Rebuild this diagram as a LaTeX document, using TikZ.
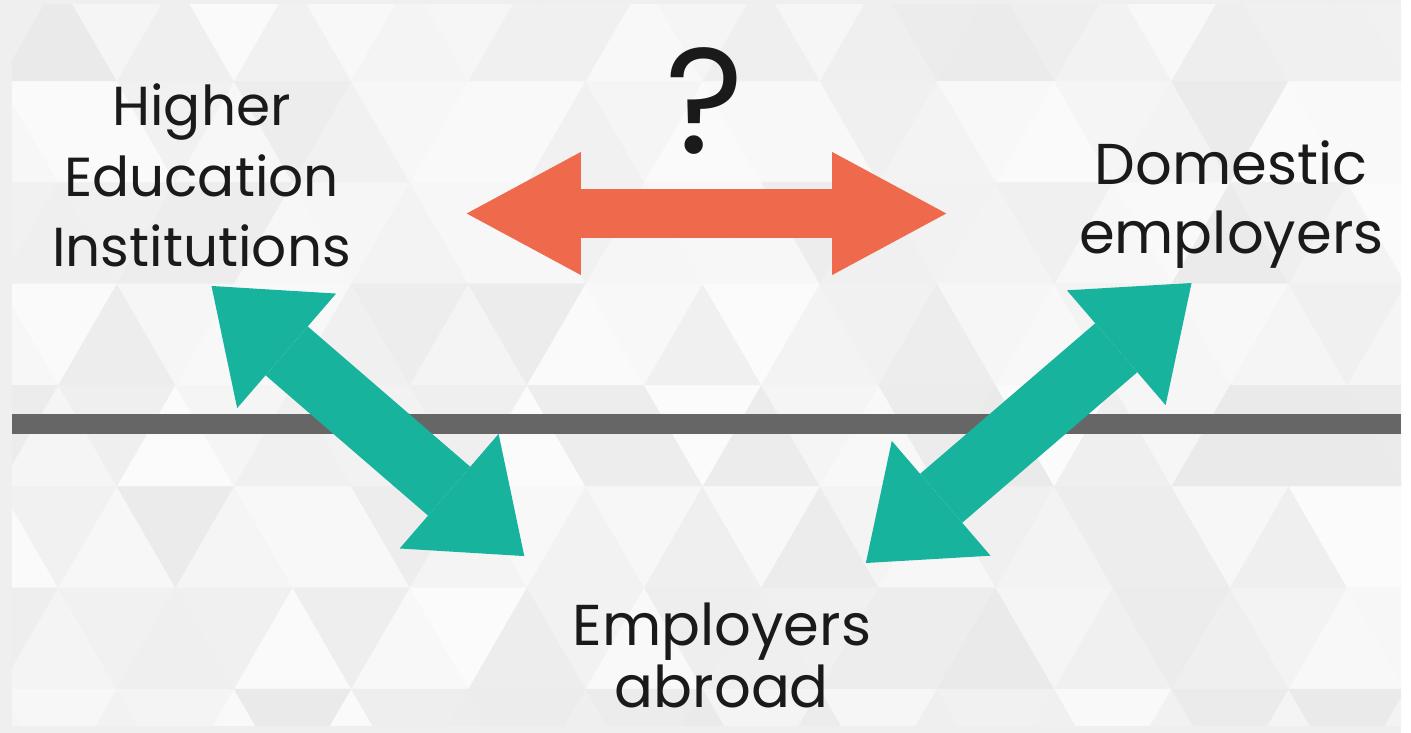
\documentclass[tikz,border=0pt]{standalone}
\usepackage{fontspec}
\setmainfont{Poppins}
\usetikzlibrary{arrows.meta}
\definecolor{frame}{HTML}{EFEFEF}
\definecolor{txt}{HTML}{1A1A1A}
\definecolor{coral}{HTML}{EF6A4C}
\definecolor{teal2}{HTML}{18B39C}
\definecolor{rule}{HTML}{666666}
\begin{document}
\begin{tikzpicture}[x=0.02cm,y=-0.02cm,inner sep=0pt,outer sep=0pt,
lbl/.style={align=center,text=txt},
redlink/.style={coral,line width=1cm,
  {Triangle[length=2.3cm,width=2.48cm,line width=0pt]}-{Triangle[length=2.3cm,width=2.48cm,line width=0pt]}},
greenlink/.style={teal2,line width=1.3cm,
  {Triangle[length=2cm,width=3.05cm,line width=0pt]}-{Triangle[length=2cm,width=3.05cm,line width=0pt]}}]

% backdrop
\fill[frame] (0,0) rectangle (1411,738);
\begin{scope}
\clip (12,5) rectangle (1411,731);
\pgfmathsetseed{11}
\foreach \r in {0,...,7}{
  \foreach \k in {-1,...,25}{
    \pgfmathsetmacro\v{1.5+7*rnd}
    \pgfmathtruncatemacro\p{mod(\k+\r+2,2)}
    \ifnum\p=0
      \filldraw[fill=black!\v,draw=black!\v,line width=0.3pt] (\k*59,\r*102+82) -- (\k*59+59,\r*102-20) -- (\k*59+118,\r*102+82) -- cycle;
    \else
      \filldraw[fill=black!\v,draw=black!\v,line width=0.3pt] (\k*59,\r*102-20) -- (\k*59+59,\r*102+82) -- (\k*59+118,\r*102-20) -- cycle;
    \fi
  }
}
\end{scope}

\draw (203,177) node[lbl,font=\fontsize{31.5}{40.4}\selectfont] (hei) {Higher\\Education\\Institutions};
\draw (1240,206) node[lbl,font=\fontsize{33}{40}\selectfont] (dom) {Domestic\\employers};
\draw (727,660) node[lbl,font=\fontsize{33}{36}\selectfont] (abr) {Employers\\abroad};
\draw (710,102) node[text=txt,font=\fontsize{86}{86}\selectfont] (qm) {?};

\coordinate (ruleL) at (12,427);
\coordinate (ruleR) at (1411,427);
\draw[rule,line width=0.4cm] (ruleL) -- (ruleR);

\coordinate (r1) at (470,215);
\coordinate (r2) at (953,215);
\coordinate (l1) at (213,288);
\coordinate (l2) at (528,560);
\coordinate (d1) at (1200,285);
\coordinate (d2) at (872,567);
\draw[redlink] (r1) -- (r2);
\draw[greenlink] (l1) -- (l2);
\draw[greenlink] (d1) -- (d2);
\end{tikzpicture}
\end{document}
